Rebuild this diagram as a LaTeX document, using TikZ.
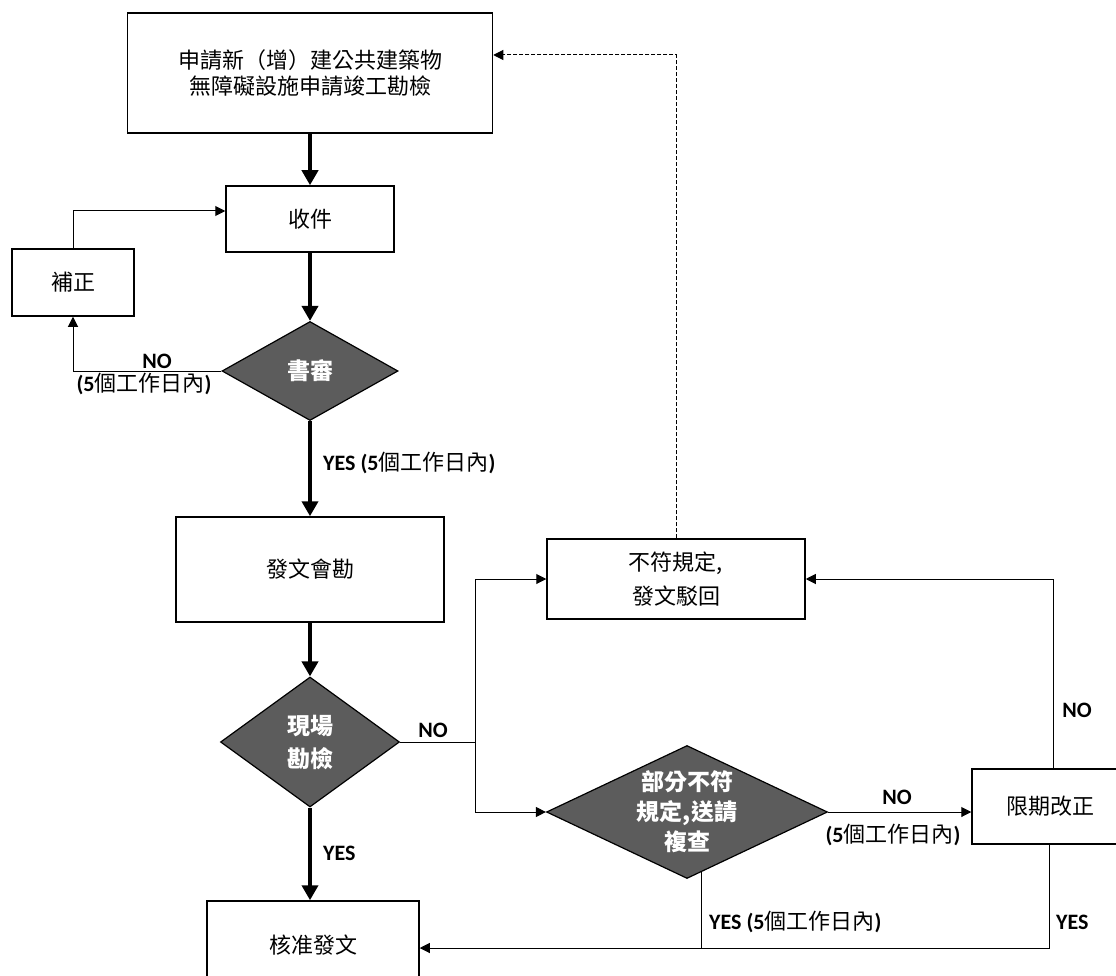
\documentclass[tikz,border=0pt]{standalone}
\usepackage{fontspec}
\setmainfont{Carlito}
\newfontfamily\cjk{Noto Sans CJK TC}
\usetikzlibrary{shapes.geometric,arrows.meta,calc}
\newcommand\inday{(5{\cjk\mdseries\fontsize{22}{23}\selectfont 個工作日內})}

\begin{document}
\begin{tikzpicture}
  [x=1pt, y=-1pt,
   every node/.style={align=center},
   stepbox/.style={draw, rectangle, line width=1.5pt, inner sep=2pt, font=\cjk\fontsize{22}{26}\selectfont},
   decide/.style={draw, diamond, line width=1.2pt, fill=black!64, text=white, inner sep=0pt,
                  font=\cjk\bfseries\fontsize{23}{30}\selectfont},
   tag/.style={inner sep=1pt, font=\bfseries\fontsize{22}{23}\selectfont},
   thickarrow/.style={line width=4.5pt, -{Triangle[length=15pt,width=16pt]}},
   thinarrow/.style={line width=1pt, -{Triangle[length=10pt,width=10pt]}},
   dotarrow/.style={thinarrow, dash pattern=on 4pt off 2pt}]
  \path[use as bounding box, fill=white] (0,0) rectangle (1116,976);

  \node[stepbox, minimum width=365pt, minimum height=120pt] (apply) at (310,73)
    {申請新（增）建公共建築物\\無障礙設施申請竣工勘檢};
  \node[stepbox, minimum width=168pt, minimum height=66pt] (receive) at (310,219) {收件};
  \node[stepbox, minimum width=122pt, minimum height=67pt] (amend) at (73,282.5) {補正};
  \node[decide, aspect=1.8, minimum width=176pt, minimum height=99pt] (paper) at (310,371) {書審};
  \node[stepbox, minimum width=268pt, minimum height=105pt] (notify) at (310,569.5) {發文會勘};
  \node[decide, aspect=1.4, minimum width=179pt, minimum height=130pt] (site) at (310,742) {現場\\[3pt]勘檢};
  \node[stepbox, minimum width=212pt, minimum height=88pt] (approve) at (313,945) {核准發文};
  \node[stepbox, minimum width=258pt, minimum height=80pt] (reject) at (676,579) {不符規定,\\[8pt]發文駁回};
  \node[decide, aspect=2.1, minimum width=281pt, minimum height=133pt] (partial) at (687,812)
    {部分不符\\規定,送請\\複查};
  \node[stepbox, minimum width=156pt, minimum height=75pt] (deadline) at (1050,806.5) {限期改正};

  \coordinate (fork) at (475,742);
  \coordinate (base) at (0,948);
  \coordinate (drop) at ($(partial.south)!0.1!(partial.east)$);

  \draw[thickarrow] (apply) -- (receive);
  \draw[thickarrow] (receive) -- (paper);
  \draw[thickarrow] (paper) -- (notify);
  \draw[thickarrow] (notify) -- (site);
  \draw[thickarrow] (site.south) -- (site.south |- approve.north);

  \draw[thinarrow] (paper.west) -| (amend.south);
  \draw[thinarrow] (amend.north) |- ([yshift=8pt]receive.west);
  \draw[line width=1pt] (site.east) -- (fork);
  \draw[thinarrow] (fork) |- (reject.west);
  \draw[thinarrow] (fork) |- (partial.west);
  \draw[dotarrow] (reject.north) |- ([yshift=18pt]apply.east);
  \draw[thinarrow] (partial.east) -- (partial.east -| deadline.west);
  \draw[thinarrow] ([xshift=3pt]deadline.north) |- (reject.east);
  \draw[line width=1pt] (drop) -- (drop |- base);
  \draw[thinarrow] ([xshift=-1pt]deadline.south) |- (approve.east |- base);

  \node[tag] (noamend) at (157,361) {NO};
  \node[tag] (dayamend) at (144,384) {\inday};
  \node[tag, anchor=west] (yespaper) at (322,463) {YES \inday};
  \node[tag] (nosite) at (433,730) {NO};
  \node[tag, anchor=west] (yessite) at (322,853) {YES};
  \node[tag] (nopartial) at (897,797) {NO};
  \node[tag] (daypartial) at (893,835) {\inday};
  \node[tag, anchor=west] (yespartial) at (708,922) {YES \inday};
  \node[tag] (nodeadline) at (1077,710) {NO};
  \node[tag, anchor=west] (yesdeadline) at (1055,922) {YES};
\end{tikzpicture}
\end{document}
